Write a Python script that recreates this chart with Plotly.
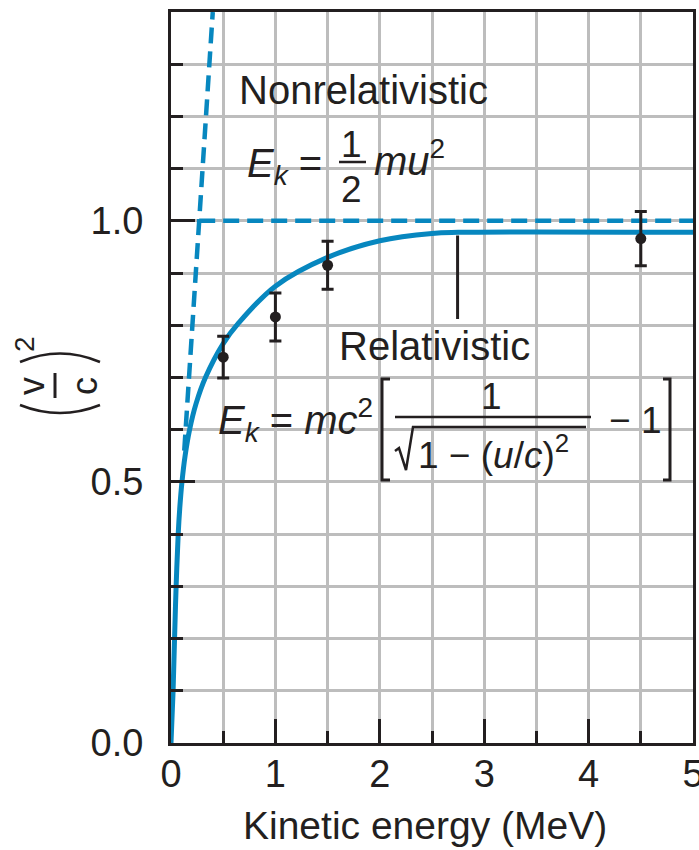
import plotly.graph_objects as go

# data
# relativistic curve (v/c)^2 vs kinetic energy (MeV)
rel_energy = [0, 0.02, 0.034, 0.049, 0.069, 0.084, 0.105, 0.135, 0.178, 0.24, 0.33,
              0.5, 0.65, 1.0, 1.5, 2.0, 2.5, 2.75, 5.0]
rel_v2 = [0, 0.1, 0.2, 0.3, 0.4, 0.45, 0.5, 0.55, 0.6, 0.65, 0.70,
          0.765, 0.805, 0.875, 0.93, 0.962, 0.976, 0.978, 0.978]

# nonrelativistic line (lower part is hidden under the relativistic curve)
nonrel_energy = [0.127, 0.27, 0.40]
nonrel_v2 = [0.56, 1.0, 1.4]

# speed-of-light limit
limit_energy = [0.27, 5.0]
limit_v2 = [1.0, 1.0]

# measured points
meas_energy = [0.5, 1.0, 1.5, 4.5]
meas_v2 = [0.739, 0.816, 0.915, 0.966]
meas_err = [0.04, 0.046, 0.046, 0.052]

# leader line to the relativistic label
leader_energy = [2.745, 2.745]
leader_v2 = [0.972, 0.812]

x_ticks = [0, 1, 2, 3, 4, 5]
y_ticks = [0.0, 0.5, 1.0]

BLUE = '#0787bf'
DARK = '#231f20'
GRID = '#bdbdbd'
FONT = 'Liberation Sans, Arial, sans-serif'

# plot area in pixels: left 171, right 693, top 12, bottom 743
L, R, T, B = 171, 693, 12, 743
W, H = 699, 850


def px(x):
    return (x - L) / (R - L)


def py(y):
    return (B - y) / (B - T)


fig = go.Figure()

fig.add_trace(go.Scatter(x=nonrel_energy, y=nonrel_v2, mode='lines',
                         line=dict(color=BLUE, width=4.5, dash='16px,8px')))
fig.add_trace(go.Scatter(x=limit_energy, y=limit_v2, mode='lines',
                         line=dict(color=BLUE, width=4.5, dash='16px,8px')))
fig.add_trace(go.Scatter(x=rel_energy, y=rel_v2, mode='lines',
                         line=dict(color=BLUE, width=5, shape='spline', smoothing=1)))
fig.add_trace(go.Scatter(x=leader_energy, y=leader_v2, mode='lines',
                         line=dict(color=DARK, width=3)))
fig.add_trace(go.Scatter(x=meas_energy, y=meas_v2, mode='markers',
                         marker=dict(color=DARK, size=11),
                         error_y=dict(type='data', array=meas_err, color=DARK,
                                      thickness=3, width=6)))

fig.update_xaxes(range=[0, 5], tickvals=x_ticks, ticks='inside', ticklen=24,
                 tickwidth=3, tickcolor=DARK, showgrid=True, gridcolor=GRID,
                 gridwidth=2.5, showline=True, linecolor=DARK, linewidth=3,
                 mirror=True, zeroline=False, ticklabelstandoff=-5,
                 ticklabeloverflow='allow', automargin=False,
                 tickfont=dict(size=38, color=DARK, family=FONT),
                 minor=dict(dtick=0.5, ticks='inside', ticklen=12, tickwidth=3,
                            tickcolor=DARK, showgrid=True, gridcolor=GRID,
                            gridwidth=2.5))
fig.update_yaxes(range=[0, 1.4], tickvals=y_ticks, tickformat='.1f',
                 ticks='inside', ticklen=24, tickwidth=3, tickcolor=DARK,
                 showgrid=True, gridcolor=GRID, gridwidth=2.5, showline=True,
                 linecolor=DARK, linewidth=3, mirror=True, zeroline=False,
                 ticklabelstandoff=17, automargin=False,
                 tickfont=dict(size=38, color=DARK, family=FONT),
                 minor=dict(dtick=0.1, ticks='inside', ticklen=12, tickwidth=3,
                            tickcolor=DARK, showgrid=True, gridcolor=GRID,
                            gridwidth=2.5))


# text pieces
def txt(text, x, y, size=40, xanchor='left', angle=0):
    fig.add_annotation(text=text, x=px(x), y=py(y), xref='paper', yref='paper',
                       xanchor=xanchor, yanchor='middle', showarrow=False,
                       textangle=angle, font=dict(size=size, color=DARK, family=FONT))


def seg(pts, width=3):
    path = ' '.join('%s %.5f,%.5f' % (c, px(x), py(y)) for c, x, y in pts)
    fig.add_shape(type='path', path=path, xref='paper', yref='paper',
                  line=dict(color=DARK, width=width))


def arc(x0, y0, cx, cy, x1, y1):
    fig.add_shape(type='path', xref='paper', yref='paper', line=dict(color=DARK, width=2.5),
                  path='M %.5f,%.5f Q %.5f,%.5f %.5f,%.5f' % (px(x0), py(y0), px(cx), py(cy), px(x1), py(y1)))


txt('Kinetic energy (MeV)', 425, 826, size=39, xanchor='center')

# y title (v/c)^2 rotated
txt('v', 31, 386, size=36, xanchor='center', angle=-90)
txt('c', 84, 386, size=36, xanchor='center', angle=-90)
txt('2', 24, 344, size=28, xanchor='center', angle=-90)
seg([('M', 55, 373), ('L', 55, 398)])
arc(20, 405, 60, 421, 100, 405)
arc(20, 362, 60, 345, 100, 362)

# nonrelativistic label
txt('Nonrelativistic', 237, 90)
txt('<i>E</i><sub><i>k</i></sub> =', 245, 166)
txt('1', 351, 144, size=37, xanchor='center')
txt('2', 351, 189, size=37, xanchor='center')
seg([('M', 339, 162), ('L', 366, 162)], width=2.5)
txt('<i>mu</i><sup>2</sup>', 372, 158)

# relativistic label
txt('Relativistic', 337, 346)
txt('<i>E</i><sub><i>k</i></sub> = <i>mc</i><sup>2</sup>', 216, 420)
seg([('M', 390, 379), ('L', 382, 379), ('L', 382, 480), ('L', 390, 480)])
seg([('M', 663, 379), ('L', 670, 379), ('L', 670, 480), ('L', 663, 480)])
txt('1', 491, 396, size=37, xanchor='center')
seg([('M', 395, 417), ('L', 591, 417)], width=2.5)
seg([('M', 395, 451), ('L', 399, 448), ('L', 406, 470), ('L', 413, 427), ('L', 586, 427)], width=2.5)
txt('1 \u2212 (<i>u</i>/<i>c</i>)<sup>2</sup>', 416, 452, size=37)
txt('\u2212 1', 607, 420, size=37)

fig.update_layout(width=W, height=H, margin=dict(l=L, r=W - R, t=T, b=H - B),
                  plot_bgcolor='white', paper_bgcolor='white', showlegend=False,
                  font=dict(family=FONT, color=DARK))

fig.write_html('out.html', config={'displayModeBar': False},
               post_script="document.body.style.margin='0';")
